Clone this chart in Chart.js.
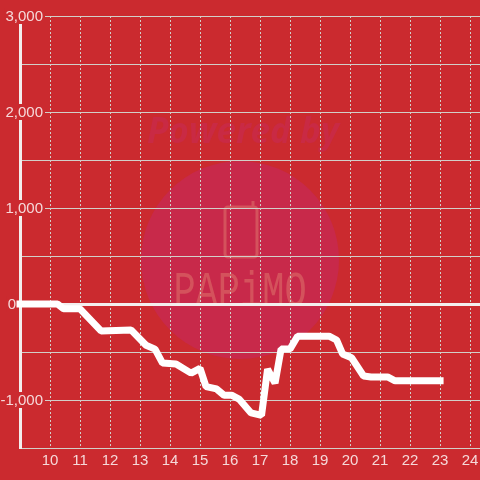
<!DOCTYPE html>
<html>
<head>
<meta charset="utf-8">
<style>
    html, body { margin: 0; padding: 0; background: #cb2a2f; }
    #wrap { width: 480px; height: 480px; }
</style>
<script src="https://cdn.jsdelivr.net/npm/chart.js@4"></script>
</head>
<body>
<div id="wrap"><canvas id="chart" width="480" height="480"></canvas></div>
<script>
    // Values
    const hours = [9, 10.25, 10.45, 11, 11.7, 12.7, 13.2, 13.5, 13.75, 14.2, 14.7, 15, 15.2, 15.55, 15.8, 16.05, 16.3, 16.7, 17.05, 17.25, 17.5, 17.7, 18, 18.25, 19.3, 19.55, 19.75, 20.05, 20.45, 20.7, 21.25, 21.5, 23];
    const balance = [0, 0, -50, -50, -280, -270, -430, -470, -615, -625, -720, -670, -860, -885, -950, -950, -990, -1135, -1160, -680, -825, -470, -470, -335, -335, -375, -520, -560, -750, -760, -760, -800, -800];
    const yLabels = [3000, 2000, 1000, 0, -1000];

    const bgColor = '#cb2a2f';
    const tickColor = 'rgba(255, 255, 255, 0.82)';
    const gridColor = '#d2cfc9';

    // Faded logo behind the plot
    const watermark = {
        id: 'watermark',
        beforeDraw(chart) {
            const c = chart.ctx;
            c.save();
            c.fillStyle = '#c8294a';
            c.beginPath();
            c.arc(240, 260, 99, 0, Math.PI * 2);
            c.fill();

            c.fillStyle = '#c92a44';
            c.font = 'italic bold 35px "Open Sans"';
            c.textAlign = 'center';
            c.textBaseline = 'middle';
            c.fillText('Powered by', 243, 133);

            c.strokeStyle = '#d4525c';
            c.lineWidth = 3;
            c.beginPath();
            c.roundRect(225, 207, 32, 50, 3);
            c.moveTo(253, 207);
            c.lineTo(253, 201);
            c.stroke();

            // Tall narrow letters, as in the logo
            c.fillStyle = '#d4525c';
            c.font = '37px "Liberation Mono"';
            c.textBaseline = 'alphabetic';
            c.translate(240, 306);
            c.scale(1, 1.35);
            c.fillText('PAPiMO', 0, 0);
            c.restore();
        }
    };

    // Y labels sit on a box that hides the axis and grid behind them
    const yLabelBoxes = {
        id: 'yLabelBoxes',
        beforeDatasetsDraw(chart) {
            const c = chart.ctx;
            const y = chart.scales.y;
            c.save();
            c.font = '15px "Liberation Sans"';
            c.textBaseline = 'middle';
            yLabels.forEach(function(v) {
                const text = v.toLocaleString('en-US');
                const w = c.measureText(text).width;
                const right = v === 0 ? 16 : 43;
                const py = y.getPixelForValue(v);
                c.fillStyle = bgColor;
                c.fillRect(right - w - 1, py - 8, w + 3, 16);
                c.fillStyle = tickColor;
                c.textAlign = 'right';
                c.fillText(text, right, py + 1);
            });
            c.restore();
        }
    };

    new Chart(document.getElementById('chart'), {
        type: 'line',
        data: {
            labels: hours,
            datasets: [{
                data: hours.map(function(h, i) { return { x: h, y: balance[i] }; }),
                borderColor: '#ffffff',
                borderWidth: 7,
                borderCapStyle: 'square',
                borderJoinStyle: 'bevel',
                pointRadius: 0,
                tension: 0,
                clip: false
            }]
        },
        options: {
            responsive: false,
            animation: false,
            layout: { padding: { top: 16, left: 0, right: 0, bottom: 0 } },
            plugins: { legend: { display: false }, tooltip: { enabled: false } },
            scales: {
                x: {
                    type: 'linear',
                    min: 9,
                    max: 24.33,
                    afterFit: function(scale) {
                        scale.height = 32;
                        scale.paddingLeft = 0;
                        scale.paddingRight = 0;
                    },
                    ticks: {
                        stepSize: 1,
                        includeBounds: false,
                        maxRotation: 0,
                        autoSkip: false,
                        color: tickColor,
                        font: { family: 'Liberation Sans', size: 15 },
                        padding: 4,
                        callback: function(v) { return v === 9 ? '' : v; }
                    },
                    grid: {
                        color: gridColor,
                        lineWidth: 1,
                        drawTicks: false
                    },
                    border: { color: gridColor, width: 1, dash: [2, 2] }
                },
                y: {
                    min: -1500,
                    max: 3000,
                    afterFit: function(scale) { scale.width = 20; },
                    ticks: {
                        stepSize: 500,
                        display: false
                    },
                    grid: {
                        color: function(ctx) {
                            return ctx.tick.value === 0 ? '#f3eeee' : gridColor;
                        },
                        lineWidth: function(ctx) { return ctx.tick.value === 0 ? 3 : 1; },
                        drawTicks: false
                    },
                    border: { color: '#f3eeee', width: 3 }
                }
            }
        },
        plugins: [watermark, yLabelBoxes]
    });
</script>
</body>
</html>
